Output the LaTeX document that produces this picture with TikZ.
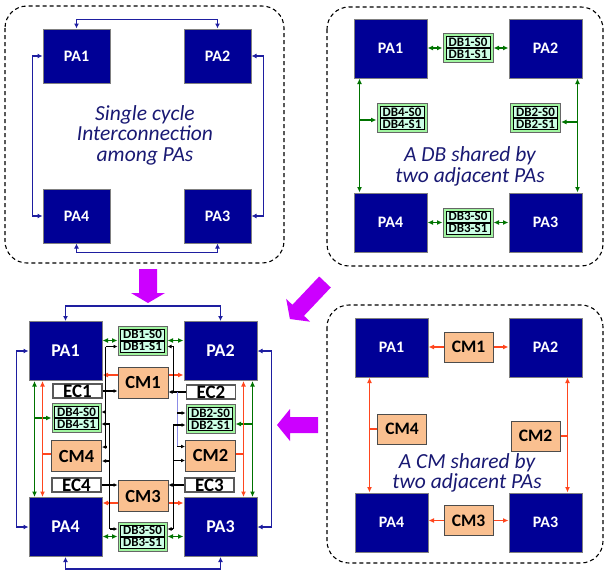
\documentclass[tikz,border=0pt]{standalone}
\usepackage{fontspec}
\setmainfont{Carlito}
\usepackage{tikz}
\usetikzlibrary{arrows.meta, positioning, calc}
\definecolor{pablue}{RGB}{0,0,150}
\definecolor{cmfill}{RGB}{250,192,144}
\definecolor{dbout}{RGB}{160,245,160}
\definecolor{dbin}{RGB}{205,255,230}
\definecolor{greenwire}{RGB}{0,115,0}
\definecolor{redwire}{RGB}{255,70,30}
\definecolor{bluewire}{RGB}{30,30,160}
\definecolor{palewire}{RGB}{140,140,230}
\definecolor{notecolor}{RGB}{25,25,115}
\definecolor{arrowmagenta}{RGB}{204,0,255}
\tikzset{
    pa/.style={rectangle, draw=gray, line width=1pt, fill=pablue, text=white, minimum width=73pt, minimum height=59pt, inner sep=0pt, font=\bfseries\fontsize{16}{16}\selectfont},
    cmbox/.style={rectangle, draw=black!70, line width=1pt, fill=cmfill, minimum width=49pt, minimum height=30pt, inner sep=0pt, font=\bfseries\fontsize{17.5}{17.5}\selectfont},
    db/.style={rectangle, draw=black!60, line width=1pt, fill=dbout, minimum width=50pt, minimum height=29pt, inner sep=0pt},
    dbcell/.style={rectangle, draw=black, fill=dbin, line width=0.9pt, minimum width=44pt, minimum height=11pt, inner sep=0pt, font=\bfseries\fontsize{13}{13}\selectfont},
    ec/.style={rectangle, draw=black!65, line width=1.4pt, fill=white, minimum width=49pt, minimum height=14pt, inner sep=0pt, font=\bfseries\fontsize{19}{19}\selectfont},
    panel/.style={draw=black, dashed, dash pattern=on 4pt off 3pt, rounded corners=22pt, line width=1.1pt},
    note/.style={font=\itshape\fontsize{21.5}{20.5}\selectfont, text=notecolor, align=center},
    bline/.style={draw=bluewire, line width=1.8pt, {Latex[length=5pt,width=5pt]}-{Latex[length=5pt,width=5pt]}},
    gline/.style={draw=greenwire, line width=1.9pt, {Latex[length=5.5pt,width=5pt]}-{Latex[length=5.5pt,width=5pt]}},
    garrow/.style={draw=greenwire, line width=1.9pt, -{Latex[length=5.5pt,width=5pt]}},
    rline/.style={draw=redwire, line width=1.8pt, {Latex[length=5.5pt,width=5pt]}-{Latex[length=5.5pt,width=5pt]}},
    rarrow/.style={draw=redwire, line width=1.8pt, -{Latex[length=5.5pt,width=5pt]}},
    rwire/.style={draw=redwire, line width=1.8pt},
    wire/.style={draw=black, line width=1.1pt},
    warrow/.style={draw=black, line width=1.1pt, -{Latex[length=4pt,width=4pt]}},
    pwire/.style={draw=palewire, line width=1.2pt},
    bigarrow/.style={fill=arrowmagenta, draw=none},
}
% one DB with its two slots
\newcommand{\dbblock}[3]{%
    \node[db] (#1) at #2 {};
    \node[dbcell, anchor=south] at (#1.center) {DB#3-S0};
    \node[dbcell, anchor=north] at (#1.center) {DB#3-S1};
}
\begin{document}
\begin{tikzpicture}[x=1pt, y=-1pt]
    \useasboundingbox (0,0) rectangle (605,571);

    % Single cycle panel
    \draw[panel] (5,6) rectangle (284,263);
    \begin{scope}[pa/.append style={minimum width=67pt, minimum height=54pt}]
        \node[pa] (apa1) at (76.5,56) {PA1};
        \node[pa] (apa2) at (217.5,56) {PA2};
        \node[pa] (apa3) at (217.5,216) {PA3};
        \node[pa] (apa4) at (76.5,216) {PA4};
    \end{scope}
    \draw[bline] (apa1.north) -- ++(0,-9) -| (apa2.north);
    \draw[bline] (apa1.west) -- ++(-10,0) |- (apa4.west);
    \draw[bline] (apa2.east) -- ++(12,0) |- (apa3.east);
    \draw[bline] (apa4.south) -- ++(0,9) -| (apa3.south);
    \node[note] (anote) at (145,135) {Single cycle\\Interconnection\\among PAs};

    % Shared DB panel
    \draw[panel] (327,7) rectangle (603,266);
    \node[pa] (dpa1) at (390.5,48.5) {PA1};
    \node[pa] (dpa2) at (545.5,48.5) {PA2};
    \node[pa] (dpa3) at (545.5,222.5) {PA3};
    \node[pa] (dpa4) at (390.5,222.5) {PA4};
    \dbblock{ddb1}{(468,48)}{1}
    \dbblock{ddb2}{(535.5,118)}{2}
    \dbblock{ddb3}{(468,222.5)}{3}
    \dbblock{ddb4}{(402,118)}{4}
    \draw[gline] (ddb1.west -| dpa1.east) -- (ddb1.west);
    \draw[gline] (ddb1.east) -- (ddb1.east -| dpa2.west);
    \draw[gline] (ddb3.west -| dpa4.east) -- (ddb3.west);
    \draw[gline] (ddb3.east) -- (ddb3.east -| dpa3.west);
    \coordinate (dl) at ([xshift=6pt]dpa1.south west);
    \coordinate (dr) at ([xshift=-5pt]dpa2.south east);
    \draw[gline] (dl) -- (dl |- dpa4.north);
    \draw[gline] (dr) -- (dr |- dpa3.north);
    \coordinate (d4) at ([yshift=-2pt]ddb4.west);
    \coordinate (d2) at ([yshift=-4pt]ddb2.east);
    \draw[garrow] (d4 -| dl) -- (d4);
    \draw[garrow] (d2 -| dr) -- (d2);
    \node[note] (dnote) at (470,166.5) {A DB shared by\\two adjacent PAs};

    % Shared CM panel
    \draw[panel] (327,305) rectangle (603,563);
    \node[pa] (cpa1) at (391.5,347.5) {PA1};
    \node[pa] (cpa2) at (545.5,347.5) {PA2};
    \node[pa] (cpa3) at (545.5,522.5) {PA3};
    \node[pa] (cpa4) at (391.5,522.5) {PA4};
    \node[cmbox] (ccm1) at (468.5,347) {CM1};
    \node[cmbox] (ccm2) at (535.5,436) {CM2};
    \node[cmbox] (ccm3) at (468.5,520.5) {CM3};
    \node[cmbox] (ccm4) at (402,429) {CM4};
    \draw[rarrow] (ccm1.west) -- (ccm1.west -| cpa1.east);
    \draw[rarrow] (ccm1.east) -- (ccm1.east -| cpa2.west);
    \draw[rarrow] (ccm3.west) -- (ccm3.west -| cpa4.east);
    \draw[rarrow] (ccm3.east) -- (ccm3.east -| cpa3.west);
    \coordinate (cl) at ([xshift=15pt]cpa1.south west);
    \coordinate (cr) at ([xshift=-15pt]cpa2.south east);
    \draw[rline] (cl) -- (cl |- cpa4.north);
    \draw[rline] (cr) -- (cr |- cpa3.north);
    \draw[rwire] (ccm4.west -| cl) -- (ccm4.west);
    \draw[rwire] (ccm2.east -| cr) -- (ccm2.east);
    \node[note] (cnote) at (467,473) {A CM shared by\\two adjacent PAs};

    % Combined panel
    \begin{scope}[pa/.append style={font=\bfseries\fontsize{18}{18}\selectfont},
                  cmbox/.append style={minimum width=50pt, minimum height=31pt, font=\bfseries\fontsize{18.5}{18.5}\selectfont},
                  db/.append style={minimum width=49pt}]
        \node[pa] (mpa1) at (65.5,351) {PA1};
        \node[pa] (mpa2) at (220.5,351) {PA2};
        \node[pa] (mpa3) at (220.5,527) {PA3};
        \node[pa] (mpa4) at (65.5,527) {PA4};
        \dbblock{mdb1}{(142.5,340.5)}{1}
        \dbblock{mdb2}{(210.5,419)}{2}
        \dbblock{mdb3}{(142.5,536.5)}{3}
        \dbblock{mdb4}{(76.5,418)}{4}
        \node[cmbox] (mcm1) at (143,382.5) {CM1};
        \node[cmbox] (mcm2) at (210.5,455.5) {CM2};
        \node[cmbox] (mcm3) at (143,496) {CM3};
        \node[cmbox] (mcm4) at (76.5,456) {CM4};
        \node[ec] (mec1) at (77.5,391) {EC1};
        \node[ec] (mec2) at (211,392) {EC2};
        \node[ec] (mec3) at (209.5,485) {EC3};
        \node[ec] (mec4) at (76.5,485) {EC4};
    \end{scope}

    % ring among PAs
    \draw[bline] (mpa1.north) -- ++(0,-15) -| (mpa2.north);
    \draw[bline] (mpa1.west) -- ++(-12,0) |- (mpa4.west);
    \draw[bline] (mpa2.east) -- ++(14,0) |- (mpa3.east);
    \draw[bline] (mpa4.south) -- ++(0,12) -| (mpa3.south);

    % DB links
    \draw[gline] (mdb1.west -| mpa1.east) -- (mdb1.west);
    \draw[gline] (mdb1.east) -- (mdb1.east -| mpa2.west);
    \draw[gline] (mdb3.west -| mpa4.east) -- (mdb3.west);
    \draw[gline] (mdb3.east) -- (mdb3.east -| mpa3.west);
    \coordinate (gl) at ([xshift=6pt]mpa1.south west);
    \coordinate (gr) at ([xshift=-5pt]mpa2.south east);
    \draw[gline] (gl) -- (gl |- mpa4.north);
    \draw[gline] (gr) -- (gr |- mpa3.north);
    \coordinate (g2) at ([yshift=-5pt]mdb2.east);
    \draw[garrow] (mdb4.west -| gl) -- (mdb4.west);
    \draw[garrow] (g2 -| gr) -- (g2);

    % CM links
    \coordinate (r1) at ([yshift=7.5pt]mcm1.west);
    \coordinate (r2) at ([yshift=7.5pt]mcm1.east);
    \coordinate (r3) at ([yshift=-7pt]mcm3.east);
    \coordinate (r4) at ([yshift=-7pt]mcm3.west);
    \draw[rarrow] (r1) -- (r1 -| mpa1.east);
    \draw[rarrow] (r2) -- (r2 -| mpa2.west);
    \draw[rarrow] (r3) -- (r3 -| mpa3.west);
    \draw[rarrow] (r4) -- (r4 -| mpa4.east);
    \coordinate (rl) at ([xshift=14pt]mpa1.south west);
    \coordinate (rr) at ([xshift=-14pt]mpa2.south east);
    \draw[rline] (rl) -- (rl |- mpa4.north);
    \draw[rline] (rr) -- (rr |- mpa3.north);
    \coordinate (c4) at ([yshift=2pt]mcm4.west);
    \coordinate (c2) at ([yshift=1.5pt]mcm2.east);
    \draw[rwire] (c4 -| rl) -- (c4);
    \draw[rwire] (c2 -| rr) -- (c2);

    % EC wiring
    \coordinate (wa) at ([xshift=3pt]mec1.east);
    \coordinate (wb) at ([xshift=8pt]mec4.east);
    \coordinate (wc) at ([xshift=-12pt]mec2.west);
    \coordinate (wp) at ([xshift=-8.5pt]mec2.west);
    \coordinate (wd) at ([xshift=-11pt]mec3.west);
    \coordinate (a1) at ([yshift=-6pt]mdb1.west);
    \coordinate (a4) at ([yshift=6pt]mdb4.east);
    \coordinate (b4) at ([yshift=-6pt]mdb4.east);
    \coordinate (ac4) at ([yshift=9pt]mcm4.east);
    \coordinate (bc4) at ([yshift=-5pt]mcm4.east);
    \coordinate (b3) at ([yshift=7.5pt]mdb3.west);
    \coordinate (c1) at ([yshift=-6pt]mdb1.east);
    \coordinate (c2s) at ([yshift=6pt]mdb2.west);
    \coordinate (d2s) at ([yshift=-6pt]mdb2.west);
    \coordinate (cc2) at ([yshift=9pt]mcm2.west);
    \coordinate (dc2) at ([yshift=-5pt]mcm2.west);
    \coordinate (d3) at ([yshift=7.5pt]mdb3.east);

    \draw[warrow] (mec1.east) -- (mec1.east -| mcm1.west);
    \draw[wire] (wa |- a1) -- (wa |- ac4);
    \draw[warrow] (wa |- a1) -- (a1);
    \draw[warrow] (wa |- a4) -- (a4);
    \draw[warrow] (wa |- ac4) -- (ac4);

    \draw[warrow] (mec4.east) -- (mec4.east -| mcm3.west);
    \draw[wire] (wb |- b4) -- (wb |- b3);
    \draw[warrow] (wb |- b4) -- (b4);
    \draw[warrow] (wb |- bc4) -- (bc4);
    \draw[warrow] (wb |- b3) -- (b3);

    \draw[warrow] (mec2.west) -- (mec2.west -| mcm1.east);
    \draw[wire] (wc |- c1) -- (wc |- mec2.west);
    \draw[warrow] (wc |- c1) -- (c1);
    \draw[pwire] (wp |- mec2.west) -- (wp |- cc2);
    \draw[warrow] (wp |- c2s) -- (c2s);
    \draw[warrow] (wp |- cc2) -- (cc2);

    \draw[warrow] (mec3.west) -- (mec3.west -| mcm3.east);
    \draw[wire] (wd |- d2s) -- (wd |- d3);
    \draw[warrow] (wd |- d2s) -- (d2s);
    \draw[warrow] (wd |- dc2) -- (dc2);
    \draw[warrow] (wd |- d3) -- (d3);

    % block arrows
    \fill[bigarrow] (139,269) -- (157,269) -- (157,293) -- (165,293) -- (148,303) -- (131,293) -- (139,293) -- cycle;
    \fill[bigarrow] (319.2,276.5) -- (330.8,287.5) -- (304.0,315.8) -- (310.2,321.7) -- (289.9,319.0) -- (286.2,298.9) -- (292.4,304.8) -- cycle;
    \fill[bigarrow] (318,417) -- (290,417) -- (290,409) -- (277,425) -- (290,441) -- (290,433) -- (318,433) -- cycle;
\end{tikzpicture}
\end{document}
